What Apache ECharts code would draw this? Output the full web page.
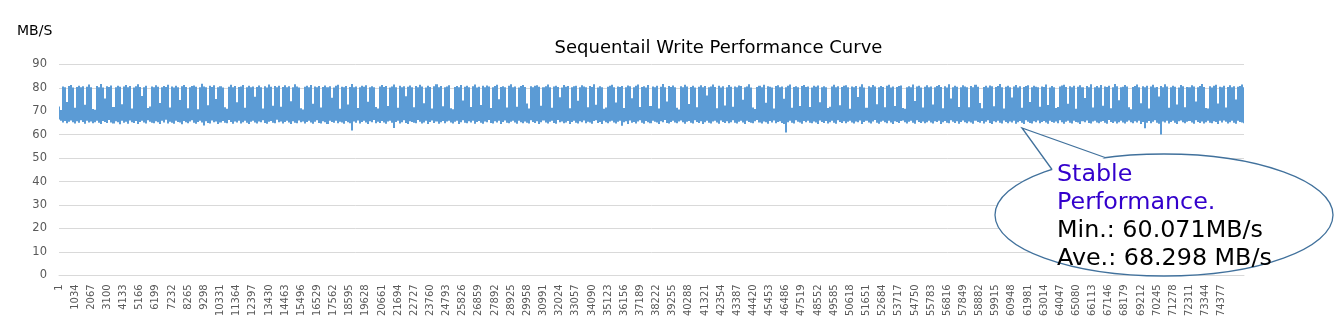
<!DOCTYPE html>
<html>
<head>
<meta charset="utf-8">
<script src="https://cdn.jsdelivr.net/npm/echarts@6/dist/echarts.min.js"></script>
<style>
  html, body { margin: 0; padding: 0; background: #fff; }
  #chart { width: 1339px; height: 334px; }
</style>
</head>
<body>
<div id="chart"></div>
<script>
// Write throughput (MB/s) in buckets of ~129 sequential samples:
// highest reading of each bucket
const peakSpeed = [
  72, 70.5, 80.6, 80.2, 74, 80.8, 81.2, 80.1, 71.5, 80.4, 80.9, 80.3, 80.7, 72.8, 80.5, 81.4,
  80.2, 71, 70.6, 80.8, 80.3, 81.6, 80.1, 75.5, 80.7, 80.4, 81, 71.8, 80.2, 80.9, 80.5, 73,
  80.6, 81.2, 80.3, 80.8, 71.2, 80.1, 80.7, 81.5, 80.4, 76.5, 80.2, 80.9, 71.4, 72, 80.6, 80.3,
  81.1, 80.5, 73.5, 80.2, 80.8, 80.4, 81.3, 71.6, 80.6, 80.1, 80.9, 80.3, 74.8, 80.7, 81.2, 80.4,
  71.3, 80.2, 80.8, 81, 80.5, 70.9, 80.3, 81.7, 80.6, 80.2, 72.6, 80.9, 80.4, 81.1, 75.2, 80.3,
  80.7, 80.1, 71.7, 71.1, 80.5, 81.3, 80.2, 80.8, 73.9, 80.4, 80.6, 81.2, 71.5, 80.3, 80.9, 80.2,
  80.6, 76.2, 80.4, 81, 80.3, 71.2, 80.7, 80.1, 81.4, 80.5, 72.4, 80.8, 80.2, 80.9, 71.9, 80.4,
  81.1, 80.3, 80.7, 74.3, 80.2, 81.5, 80.6, 80.1, 71.3, 70.8, 80.5, 80.9, 80.3, 81.2, 73.2, 80.6,
  80.2, 80.8, 71.6, 80.4, 81, 80.3, 80.7, 75.8, 80.1, 80.9, 81.3, 71.1, 80.5, 80.2, 80.8, 72.9,
  80.4, 81.6, 80.3, 80.6, 71.4, 80.2, 80.9, 80.5, 81.1, 74.1, 80.3, 80.7, 80.2, 71.8, 71.2, 80.6,
  81.2, 80.4, 80.8, 72.2, 80.1, 80.6, 81.4, 80.3, 71.5, 80.9, 80.2, 80.7, 76.4, 80.5, 81, 80.3,
  71.7, 80.8, 80.2, 81.3, 80.6, 73.4, 80.1, 80.9, 80.4, 71.2, 80.7, 81.5, 80.3, 80.8, 72.1, 80.2,
  80.6, 81.1, 71.3, 70.9, 80.4, 80.8, 80.2, 81.2, 74.6, 80.5, 80.9, 80.3, 71.8, 80.7, 81.4, 80.1,
  80.5, 72.7, 80.9, 80.3, 81, 80.6, 71.4, 80.2, 80.8, 81.3, 75.1, 80.4, 80.7, 80.2, 71.6, 80.9,
  81.5, 80.3, 80.6, 71.9, 80.1, 80.8, 81.2, 80.4, 73.3, 71.2, 80.7, 80.2, 80.9, 81.1, 80.5, 72.4,
  80.3, 80.7, 81.4, 80.2, 71.5, 80.6, 80.9, 80.4, 76, 80.1, 81.2, 80.5, 80.8, 71.3, 80.3, 80.7,
  80.9, 74.5, 80.2, 81.1, 80.6, 80.3, 71.7, 80.8, 80.4, 81.5, 72.8, 80.1, 80.7, 80.2, 71.1, 71.6,
  80.5, 80.9, 81.3, 80.2, 73.7, 80.6, 80.4, 80.8, 71.4, 80.3, 81, 80.7, 75.6, 80.2, 80.9, 81.4,
  71.8, 80.4, 80.7, 80.1, 81.2, 72.3, 80.6, 80.3, 80.9, 71.2, 80.5, 81.6, 80.2, 74.2, 80.8, 80.4,
  81, 80.3, 71.5, 70.8, 80.7, 80.2, 81.3, 80.6, 73.1, 80.4, 80.9, 80.1, 71.7, 80.5, 81.1, 80.3,
  80.8, 76.7, 80.2, 80.6, 81.4, 80.4, 71.3, 80.9, 80.1, 80.7, 72.5, 80.3, 81.2, 80.5, 71.9, 80.6,
  80.2, 81, 80.8, 74.9, 80.3, 80.6, 81.5, 80.1, 71.6, 71, 80.4, 80.9, 80.2, 81.3, 73.6, 80.7,
  80.5, 80.1, 71.2, 80.8, 81.1, 80.3, 80.6, 75.3, 80.2, 80.9, 81.4, 71.5, 80.4, 80.7, 80.3, 72.2,
  80.8, 81.2, 80.4, 80.6, 71.8, 80.1, 80.9, 80.5, 81, 73.8, 80.3, 80.7, 80.2, 71.4, 71.9, 80.6,
  81.3, 80.2, 80.7, 72.6, 80.4, 80.9, 81.1, 80.3, 71.1, 80.6, 80.2, 80.8, 76.1, 80.5, 81.5, 80.1,
  71.5, 80.7, 80.3, 81.2, 80.6, 73, 80.2, 80.8, 80.4, 71.7, 80.9, 81.3, 80.1, 80.6, 72.3, 80.4,
  80.8, 81, 71.4, 71.1, 80.3, 80.7, 80.2, 81.4, 74.4, 80.6, 80.9, 80.1, 71.6, 80.5, 81.1, 80.3,
  80.6, 72.9, 80.2, 80.8, 81.2, 80.4, 71.3, 80.7, 80.1, 81.5, 75.4, 80.3, 80.9, 80.5, 71.8, 80.2,
  81.1, 80.6, 80.3, 71.7, 80.8, 80.2, 81.3, 80.5, 73.5, 71.3, 80.4, 80.9, 80.1, 81, 80.7, 72.1,
  80.4, 80.8, 81.6, 80.2, 71.2, 80.5, 80.9, 80.3, 75.9, 80.6, 81.2, 80.1, 80.7, 71.5, 80.4, 80.8,
  81.1, 74, 80.3, 80.9, 80.5, 80.2, 71.9, 80.6, 80.4, 81.4, 72.7, 80.1, 80.8, 80.3, 71.4, 71.8,
  80.6, 81, 81.3, 80.4, 73.2, 80.7, 80.2, 80.9, 71.1, 80.5, 81.1, 80.3, 75.7, 80.8, 80.2, 81.5,
  71.6, 80.3, 80.8, 80.1, 81.2, 72.4, 80.6, 80.4, 80.9, 71.3, 80.2, 81.6, 80.7, 74.7, 80.3, 80.5,
  81.2, 80.6, 71.7, 70.9, 80.4, 80.8, 81.4, 80.2, 73.4, 80.7, 80.3, 80.9, 71.2, 80.6, 81.3, 80.1,
  80.4, 76.3, 80.8, 80.2, 81.5, 80.6, 71.5, 80.3, 80.9, 80.5, 72.9, 80.1, 81.2, 80.7, 71.7, 80.4,
  80.3, 81.1, 80.6, 74.2, 80.2, 80.8, 81.6, 80.4, 71.4, 71.2, 80.7, 80.1, 80.9, 81.3, 73.3, 80.5,
  80.2, 80.9, 71.6, 80.4, 81.1, 80.3, 80.7, 75, 80.5, 80.8, 81.4, 80.2
];

// lowest reading of each bucket
const floorSpeed = [
  66.5, 66, 65.2, 65.8, 64.9, 65.5, 66.1, 65.3, 64.8, 65.7, 65.1, 66.2, 65.4, 64.7, 65.9, 65.2,
  65.6, 64.9, 65.3, 66, 65.1, 64.6, 65.8, 65.4, 65, 66.3, 65.2, 64.8, 65.7, 65.3, 64.5, 65.9,
  65.1, 65.5, 64.7, 66.1, 65.3, 65, 65.8, 64.6, 65.4, 65.9, 65.2, 64.8, 66.2, 65.5, 65.1, 64.9,
  65.7, 65.3, 64.6, 65.9, 65.2, 66.4, 64.8, 65.5, 65.1, 64.7, 66, 65.4, 65.2, 64.5, 65.8, 65.3,
  64.9, 65.6, 66.2, 65.1, 64.7, 65.4, 65.9, 65.2, 63.9, 65.7, 65, 64.8, 66.1, 65.3, 65.6, 64.6,
  65.2, 65.8, 65.1, 64.9, 66.3, 65.4, 64.7, 65.6, 65.2, 65.9, 64.8, 65.3, 66, 65.1, 64.6, 65.5,
  65.9, 65.2, 64.8, 65.6, 65.3, 66.2, 65, 64.7, 65.5, 65.8, 65.1, 64.9, 66.4, 65.3, 65.6, 64.8,
  65.4, 66, 65.2, 64.6, 65.7, 65.1, 64.9, 66.1, 65.3, 65.6, 64.8, 65.4, 65.9, 65.2, 64.7, 65.5,
  66.2, 65, 64.8, 65.7, 65.3, 64.6, 65.9, 65.4, 65.1, 66, 64.9, 65.5, 65.2, 64.7, 65.8, 65.3,
  64.9, 61.8, 65.6, 65.1, 66.1, 64.8, 65.4, 65.9, 65.2, 64.6, 65.7, 65.3, 66.3, 64.9, 65.5, 65,
  65.8, 65.2, 64.7, 65.6, 66, 65.1, 62.9, 65.4, 65.9, 64.8, 65.3, 66.2, 65, 64.6, 65.7, 65.4,
  65.1, 64.9, 66.3, 65.5, 64.8, 65.2, 65.9, 64.6, 65.4, 66.1, 65, 65.6, 64.7, 65.3, 65.8, 64.9,
  65.6, 66, 65.2, 64.8, 65.5, 65.9, 64.6, 65.3, 66.2, 65.1, 64.9, 65.7, 65.2, 66, 64.7, 65.4,
  65.8, 65.1, 64.7, 65.6, 65.3, 66.3, 65, 64.8, 65.7, 65.2, 65.9, 64.6, 65.4, 66.1, 65.1, 64.9,
  65.5, 65.9, 65.2, 64.7, 66, 65.3, 64.9, 65.6, 65.1, 64.8, 66.2, 65.4, 65, 65.7, 64.6, 65.3,
  66.1, 65.2, 64.8, 65.5, 65.9, 65, 64.7, 66.3, 65.3, 65.6, 64.9, 65.2, 65.8, 64.6, 65.4, 66,
  65.1, 64.8, 65.7, 65.3, 66.1, 64.9, 65.5, 65.2, 64.7, 65.8, 66.2, 65, 65.4, 64.6, 65.9, 65.3,
  64.9, 65.6, 66, 65.2, 64.8, 65.5, 65.9, 63.8, 65.3, 65.7, 64.6, 66.1, 65.1, 65.4, 64.8, 65.6,
  66.2, 65.1, 64.7, 65.8, 65.3, 64.9, 66, 65.5, 65.2, 64.6, 65.7, 65.3, 66.3, 65, 64.8, 65.4,
  65.9, 65.2, 64.9, 65.6, 66.1, 65.3, 64.7, 65.5, 65.8, 65.1, 64.8, 66.2, 65.4, 65, 65.7, 64.6,
  65.3, 66, 65.1, 64.8, 65.6, 65.9, 65.2, 64.7, 66.1, 65.4, 65, 65.7, 64.9, 65.3, 66.2, 65.1,
  64.8, 65.5, 65.9, 65.2, 64.6, 66, 65.4, 65.1, 64.9, 65.7, 66.3, 65.2, 64.8, 65.6, 65.3, 64.7,
  65.8, 65.2, 66.1, 64.9, 65.4, 65.7, 65, 64.6, 60.9, 65.3, 65.9, 65.1, 64.8, 66.2, 65.5, 65.2,
  64.7, 65.8, 65.3, 66, 65.1, 64.9, 65.6, 65.2, 64.6, 66.1, 65.4, 65, 65.8, 64.8, 65.3, 65.9,
  65.1, 64.7, 66.2, 65.4, 65, 65.7, 64.9, 65.5, 66, 65.2, 64.8, 65.6, 65.3, 66.1, 64.6, 65.4,
  65.9, 65.2, 64.8, 65.6, 66.3, 65.1, 64.7, 65.5, 65.9, 65.3, 64.9, 66, 65.2, 64.6, 65.7, 65.4,
  65, 65.8, 66.1, 65.3, 64.8, 65.5, 65.9, 65.1, 64.7, 66.2, 65.4, 65, 65.6, 64.9, 65.3, 66,
  65.2, 64.8, 65.7, 65.4, 66, 64.6, 65.3, 65.8, 65.1, 64.9, 66.2, 65.5, 65, 65.7, 64.7, 65.4,
  66.1, 65.3, 64.9, 65.6, 65.2, 64.7, 66, 65.4, 65.1, 65.8, 64.8, 65.5, 66.2, 65, 64.6, 65.7,
  65.3, 65.9, 65.1, 64.8, 66.1, 65.4, 64.9, 65.6, 65.2, 66, 64.7, 65.3, 65.8, 65.1, 64.6, 66.2,
  65.5, 65, 64.8, 65.7, 65.3, 66.1, 64.9, 65.4, 65.8, 65.2, 64.7, 66, 65.4, 65.1, 65.6, 64.9,
  66.2, 65.3, 64.7, 65.5, 65.9, 65.1, 64.8, 66, 65.4, 65.2, 64.6, 65.7, 65.3, 66.1, 65, 64.8,
  65.6, 66, 65.2, 64.9, 65.5, 65.8, 65.1, 64.7, 66.3, 65.4, 65, 65.6, 64.8, 65.3, 65.9, 65.2,
  64.8, 65.5, 66.1, 65.3, 64.9, 65.7, 65.2, 66, 64.6, 65.4, 62.8, 65.1, 65.8, 64.9, 65.5, 66.2,
  65.1, 64.7, 60.071, 65.6, 65.2, 66, 64.8, 65.4, 65.9, 65.1, 64.6, 65.7, 66.1, 65.3, 64.9, 65.5,
  65.8, 65.2, 64.7, 66.2, 65.4, 65, 65.6, 64.8, 65.3, 66, 65.1, 64.9, 65.7, 65.4, 64.6, 65.9,
  65.2, 66.1, 65.5, 64.8, 65.3, 65.9, 65.1, 64.7, 66, 65.4, 65.2, 64.9
];

// Sample numbers printed along the x axis (one every 1033 samples)
const sampleTicks = [
  1, 1034, 2067, 3100, 4133, 5166, 6199, 7232, 8265, 9298, 10331, 11364, 12397,
  13430, 14463, 15496, 16529, 17562, 18595, 19628, 20661, 21694, 22727, 23760,
  24793, 25826, 26859, 27892, 28925, 29958, 30991, 32024, 33057, 34090, 35123,
  36156, 37189, 38222, 39255, 40288, 41321, 42354, 43387, 44420, 45453, 46486,
  47519, 48552, 49585, 50618, 51651, 52684, 53717, 54750, 55783, 56816, 57849,
  58882, 59915, 60948, 61981, 63014, 64047, 65080, 66113, 67146, 68179, 69212,
  70245, 71278, 72311, 73344, 74377
];

const TICK_STEP = 8; // buckets between two printed sample numbers

const chartTitle = 'Sequentail Write Performance Curve';
const unitLabel = 'MB/S';
const noteHeadline = ['Stable', 'Performance.'];
const noteStats = ['Min.: 60.071MB/s', 'Ave.: 68.298 MB/s'];

const FONT = '"DejaVu Sans", Verdana, sans-serif';
const LINE_BLUE = '#5B9BD5';
const categories = peakSpeed.map((_, i) => i);
const buckets = peakSpeed.map((p, i) => [i, floorSpeed[i], p]);

const chart = echarts.init(document.getElementById('chart'), null, { renderer: 'canvas' });

// Each bucket is drawn as the vertical swing of the trace inside it (low to high),
// which is how a densely sampled line looks once many samples share a pixel column.
function renderBucket(params, api) {
  const i = api.value(0);
  const lo = api.coord([i, api.value(1)]);
  const hi = api.coord([i, api.value(2)]);
  const step = api.size([1, 0])[0];
  const x0 = Math.round(hi[0] - step / 2);
  const x1 = Math.round(hi[0] + step / 2);
  return {
    type: 'rect',
    shape: { x: x0, y: hi[1], width: Math.max(x1 - x0, 1), height: lo[1] - hi[1] },
    style: { fill: LINE_BLUE }
  };
}

// Speech-bubble callout geometry
const bubble = { cx: 1164, cy: 215, rx: 169, ry: 61 };
const tailTip = [1022, 128];
const tailA = [1052, 169.5];
const tailB = [1105, 157.5];
const NOTE_FONT = '23.8px ' + FONT;

chart.setOption({
  animation: false,
  backgroundColor: '#ffffff',
  grid: { left: 59, right: 95, top: 64.4, bottom: 58.7, containLabel: false },
  xAxis: {
    type: 'category',
    data: categories,
    boundaryGap: false,
    axisLine: { show: true, lineStyle: { color: '#D9D9D9', width: 1 } },
    axisTick: { show: false },
    splitLine: { show: false },
    axisLabel: {
      rotate: 90,
      margin: 9,
      color: '#595959',
      fontFamily: FONT,
      fontSize: 10,
      hideOverlap: false,
      interval: (i) => i % TICK_STEP === 0 && i / TICK_STEP < sampleTicks.length,
      formatter: (v, i) => String(sampleTicks[Math.round(i / TICK_STEP)])
    }
  },
  yAxis: {
    type: 'value',
    min: 0,
    max: 90,
    interval: 10,
    axisLine: { show: false },
    axisTick: { show: false },
    splitLine: { lineStyle: { color: '#D9D9D9', width: 1 } },
    axisLabel: { color: '#595959', fontFamily: FONT, fontSize: 11.5, margin: 12 }
  },
  series: [{
    type: 'custom',
    data: buckets,
    encode: { x: 0, y: [1, 2] },
    renderItem: renderBucket,
    clip: true,
    z: 2
  }],
  graphic: [
    {
      type: 'text', left: 17, top: 24, z: 50,
      style: { text: unitLabel, fill: '#000', font: '14px ' + FONT }
    },
    {
      type: 'text', x: 718.5, y: 48.5, z: 50,
      style: { text: chartTitle, fill: '#000', font: '18px ' + FONT, align: 'center', verticalAlign: 'middle' }
    },
    {
      type: 'ellipse', z: 60,
      shape: bubble,
      style: { fill: '#fff', stroke: '#41719C', lineWidth: 1.3 }
    },
    {
      type: 'polygon', z: 61,
      shape: { points: [tailA, tailTip, tailB, [1090, 166], [1062, 175]] },
      style: { fill: '#fff', stroke: null }
    },
    {
      type: 'polyline', z: 62,
      shape: { points: [tailA, tailTip, tailB] },
      style: { stroke: '#41719C', lineWidth: 1.3, fill: null }
    },
    {
      type: 'text', x: 1057, y: 175, z: 63,
      style: { text: noteHeadline[0], fill: '#3300CC', font: NOTE_FONT, verticalAlign: 'middle' }
    },
    {
      type: 'text', x: 1057, y: 203, z: 63,
      style: { text: noteHeadline[1], fill: '#3300CC', font: NOTE_FONT, verticalAlign: 'middle' }
    },
    {
      type: 'text', x: 1057, y: 231, z: 63,
      style: { text: noteStats[0], fill: '#000', font: NOTE_FONT, verticalAlign: 'middle' }
    },
    {
      type: 'text', x: 1057, y: 259, z: 63,
      style: { text: noteStats[1], fill: '#000', font: NOTE_FONT, verticalAlign: 'middle' }
    }
  ]
});
</script>
</body>
</html>
